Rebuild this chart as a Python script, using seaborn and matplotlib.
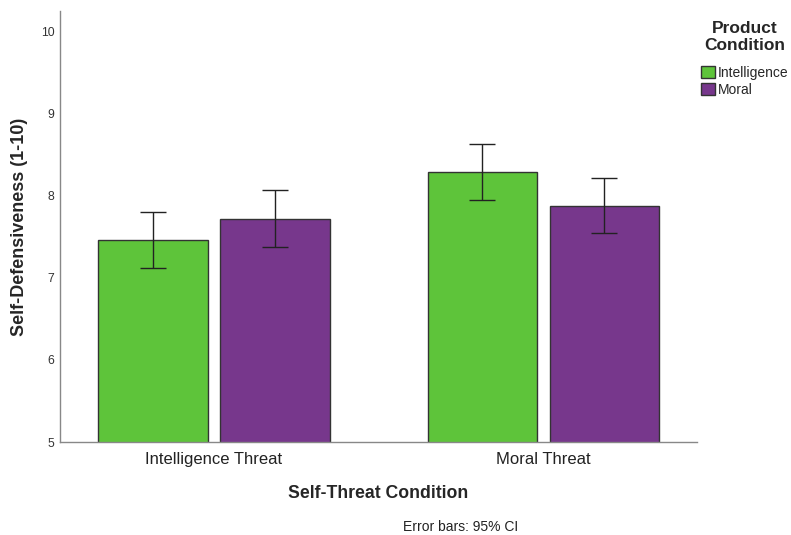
import matplotlib
matplotlib.use("Agg")
import matplotlib.pyplot as plt
import pandas as pd
import seaborn as sns

threat = ["Intelligence Threat", "Intelligence Threat", "Moral Threat", "Moral Threat"]
product = ["Intelligence", "Moral", "Intelligence", "Moral"]
means = [7.46, 7.72, 8.29, 7.88]
ci_low = [7.12, 7.38, 7.95, 7.55]
ci_high = [7.80, 8.07, 8.63, 8.22]
colors = {"Intelligence": "#5EC43A", "Moral": "#77378C"}

df = pd.DataFrame({"threat": threat, "product": product, "mean": means,
                   "lo": ci_low, "hi": ci_high})

sns.set_style("white")
plt.rcParams["font.family"] = ["Liberation Sans", "DejaVu Sans"]

fig = plt.figure(figsize=(7.91, 5.35), dpi=100)
ax = fig.add_axes([60 / 791, 93 / 535, 637 / 791, 431 / 535])

sns.barplot(data=df, x="threat", y="mean", hue="product", palette=colors,
            saturation=1, errorbar=None, width=0.74, gap=0.1, edgecolor="#333333",
            linewidth=1.0, ax=ax)

# error bars at the bar centres seaborn placed
for patch in ax.patches[:len(df)]:
    xc = patch.get_x() + patch.get_width() / 2
    h = patch.get_height()
    row = df[(df["mean"] - h).abs() < 1e-9].iloc[0]
    ax.errorbar(xc, row["mean"], yerr=[[row["mean"] - row["lo"]], [row["hi"] - row["mean"]]],
                fmt="none", ecolor="#222222", elinewidth=1.0, capsize=9.7, capthick=1.0)

ax.set_ylim(5, 10.256)
ax.set_xlim(-0.467, 1.466)
ax.set_yticks([5, 6, 7, 8, 9, 10])
ax.tick_params(axis="y", labelsize=8.8, colors="#333333", length=0, pad=4)
ax.tick_params(axis="x", labelsize=12, colors="#222222", length=0, pad=7.5)
for s in ["top", "right"]:
    ax.spines[s].set_visible(False)
for s in ["left", "bottom"]:
    ax.spines[s].set_color("#888888")
    ax.spines[s].set_linewidth(1.0)

ax.set_xlabel("Self-Threat Condition", fontsize=12.7, fontweight="bold", labelpad=12.5)
ax.set_ylabel("Self-Defensiveness (1-10)", fontsize=13, fontweight="bold", labelpad=9)

leg = ax.legend(title="Product\nCondition", loc="upper left", bbox_to_anchor=(0.993, 0.997),
                frameon=False, fontsize=10, handlelength=1.0, handleheight=1.0,
                handletextpad=0.2, labelspacing=0.25, borderaxespad=0.2)
leg.get_title().set_fontweight("bold")
leg.get_title().set_fontsize(12.5)
leg.get_title().set_multialignment("center")
leg._legend_box.align = "center"
leg._legend_box.sep = 9
for h in leg.legend_handles:
    h.set_edgecolor("#333333")

fig.text(461 / 791, 1 - 527 / 535, "Error bars: 95% CI", ha="center", va="center",
         fontsize=10, color="#222222")

fig.savefig("out.png", dpi=100)
